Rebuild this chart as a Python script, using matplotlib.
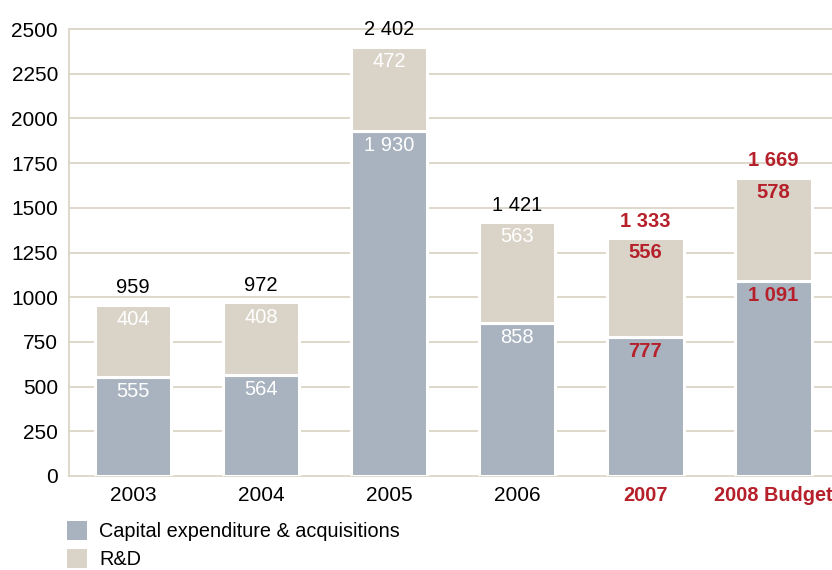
import matplotlib.pyplot as plt
from matplotlib.patches import Patch

plt.rcParams['font.family'] = ['Liberation Sans', 'DejaVu Sans']

years = ['2003', '2004', '2005', '2006', '2007', '2008 Budget']
capex = [555, 564, 1930, 858, 777, 1091]
rnd = [404, 408, 472, 563, 556, 578]
totals = [959, 972, 2402, 1421, 1333, 1669]
highlight = [False, False, False, False, True, True]

blue = '#a8b3bf'
beige = '#dad4c8'
red = '#b5202a'
grid_col = '#dcd6c6'


def fmt(v):
    return f'{v:,}'.replace(',', ' ')


fig = plt.figure(figsize=(8.32, 5.70), dpi=100)
ax = fig.add_axes([0.083, 0.165, 0.917, 0.784])

x = list(range(len(years)))
ax.bar(x, capex, width=0.6, color=blue, edgecolor='white', linewidth=2.2, zorder=2)
ax.bar(x, rnd, bottom=capex, width=0.6, color=beige, edgecolor='white', linewidth=2.2, zorder=2)

for i in x:
    hl = highlight[i]
    col = red if hl else 'white'
    wt = 'bold' if hl else 'normal'
    ax.text(i, capex[i] - 30, fmt(capex[i]), ha='center', va='top', fontsize=14.5, color=col, fontweight=wt, zorder=3)
    ax.text(i, totals[i] - 30, fmt(rnd[i]), ha='center', va='top', fontsize=14.5, color=col, fontweight=wt, zorder=3)
    ax.text(i, totals[i] + 40, fmt(totals[i]), ha='center', va='bottom', fontsize=14.5,
            color=red if hl else 'black', fontweight=wt, zorder=3)

ax.set_xlim(-0.5, 5.46)
ax.set_ylim(0, 2500)
ax.set_yticks(range(0, 2501, 250))
ax.set_xticks(x)
ax.set_xticklabels(years)
ax.tick_params(axis='both', length=0, labelsize=15)
ax.tick_params(axis='x', pad=7)
ax.tick_params(axis='y', pad=8)
for lbl, hl in zip(ax.get_xticklabels(), highlight):
    if hl:
        lbl.set_color(red)
        lbl.set_fontweight('bold')
        lbl.set_fontsize(14.3)

ax.yaxis.grid(True, color=grid_col, linewidth=1.3, zorder=0)
for gl in ax.yaxis.get_gridlines():
    gl.set_clip_on(False)
ax.set_axisbelow(True)
for s in ['top', 'right', 'bottom']:
    ax.spines[s].set_visible(False)
ax.spines['left'].set_color(grid_col)
ax.spines['left'].set_linewidth(1.3)

handles = [Patch(facecolor=blue, edgecolor='none', label='Capital expenditure & acquisitions'),
           Patch(facecolor=beige, edgecolor='none', label='R&D')]
fig.legend(handles=handles, loc='upper left', bbox_to_anchor=(0.081, 0.086), frameon=False,
           fontsize=14.3, handlelength=1.0, handleheight=1.1, handletextpad=0.6, labelspacing=0.4,
           borderaxespad=0, borderpad=0)

fig.savefig('out.png', dpi=100)
